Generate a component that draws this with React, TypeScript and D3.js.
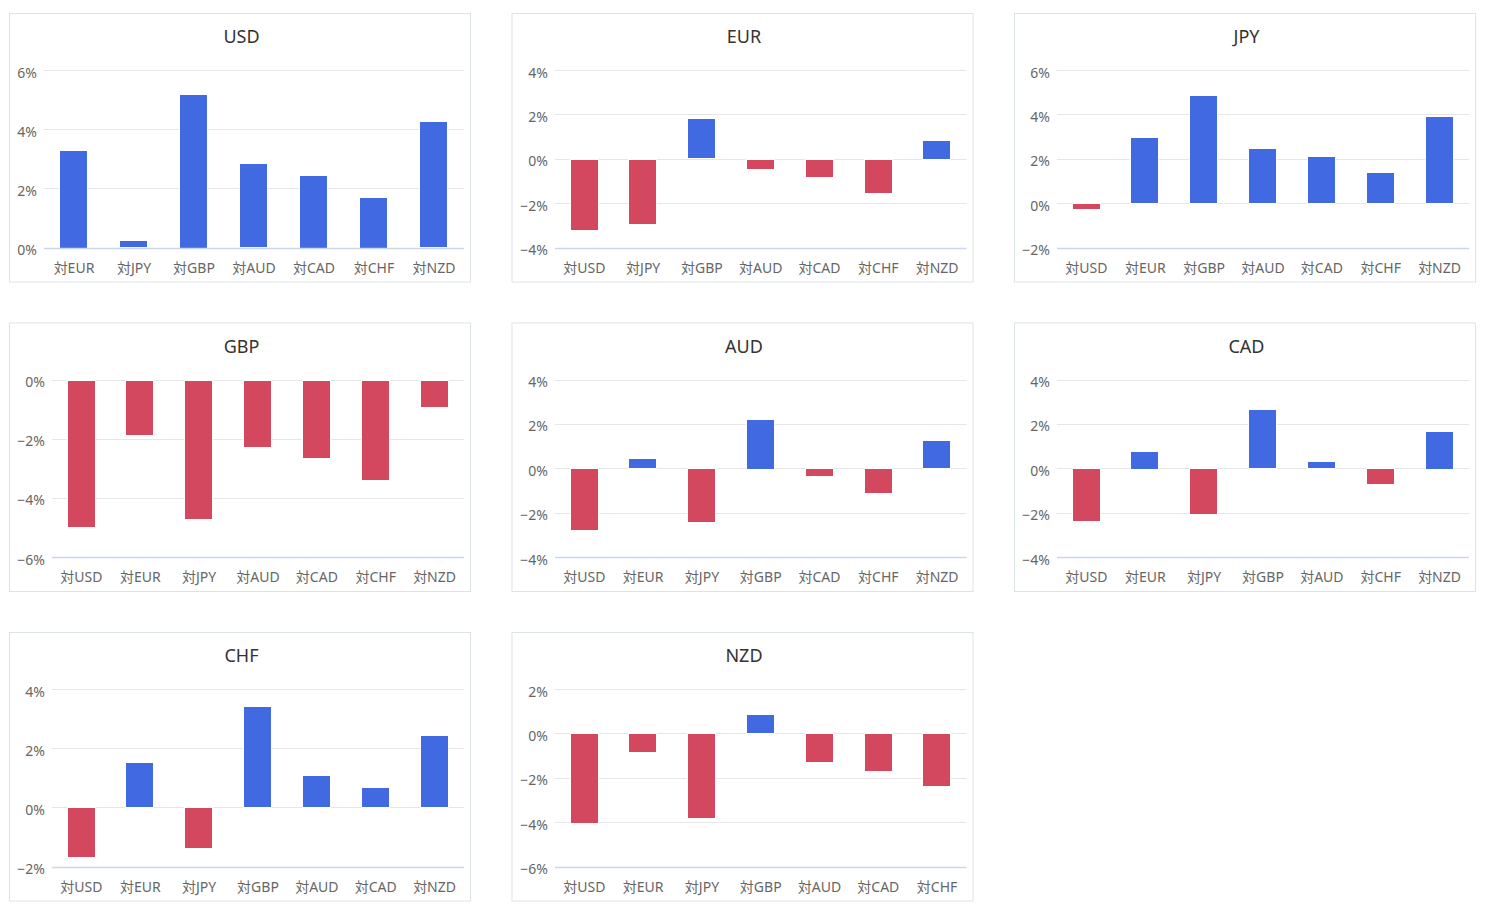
import React from "react";
import * as d3 from "d3";

const baseCurrencies = ["USD", "EUR", "JPY", "GBP", "AUD", "CAD", "CHF", "NZD"];
const allCodes = ["USD", "EUR", "JPY", "GBP", "AUD", "CAD", "CHF", "NZD"];

const usdValues = [3.31, 0.24, 5.2, 2.85, 2.46, 1.72, 4.26];
const eurValues = [-3.21, -2.91, 1.82, -0.45, -0.81, -1.52, 0.86];
const jpyValues = [-0.28, 2.97, 4.88, 2.48, 2.12, 1.39, 3.92];
const gbpValues = [-4.97, -1.86, -4.7, -2.27, -2.62, -3.39, -0.91];
const audValues = [-2.81, 0.44, -2.45, 2.24, -0.35, -1.13, 1.28];
const cadValues = [-2.39, 0.8, -2.09, 2.67, 0.32, -0.71, 1.7];
const chfValues = [-1.7, 1.53, -1.39, 3.42, 1.09, 0.69, 2.44];
const nzdValues = [-4.05, -0.87, -3.83, 0.86, -1.31, -1.71, -2.37];

const yMins = [0, -4, -2, -6, -4, -4, -2, -6];
const yMaxs = [6, 4, 6, 0, 4, 4, 4, 2];
const tickStep = 2;

const seriesValues = [usdValues, eurValues, jpyValues, gbpValues, audValues, cadValues, chfValues, nzdValues];

const W = 1486;
const H = 918;
const FONT = '"Noto Sans", "Noto Sans CJK JP", sans-serif';
const BLUE = "#4169e1";
const RED = "#d4485f";

let measureCtx: CanvasRenderingContext2D | null = null;
function textWidth(t: string, size: number) {
  if (!measureCtx) {
    const c = document.createElement("canvas");
    measureCtx = c.getContext("2d");
  }
  if (!measureCtx) return t.length * size * 0.6;
  measureCtx.font = `${size}px ${FONT}`;
  return measureCtx.measureText(t).width;
}

const fmt = (v: number) => (v < 0 ? "\u2212" + Math.abs(v) : String(v)) + "%";

function Panel({ idx }: { idx: number }) {
  const col = idx % 3;
  const row = Math.floor(idx / 3);
  const px = 9.5 + col * 502.5;
  const py = 13.5 + row * 309.5;
  const pw = 461;
  const ph = 268.5;
  const base = baseCurrencies[idx];
  const cats = allCodes.filter((c) => c !== base).map((c) => "対" + c);
  const vals = seriesValues[idx];
  const ticks = d3.range(yMins[idx], yMaxs[idx] + 0.001, tickStep);
  const labelW = d3.max(ticks, (t) => textWidth(fmt(t), 14)) || 0;
  const left = Math.round(px + 8 + labelW + 7);
  const right = px + pw - 6.5;
  const top = py + 56.5;
  const bottom = py + ph - 34.5;
  const x = d3.scaleBand<number>().domain(d3.range(cats.length)).range([left, right]).padding(0);
  const y = d3.scaleLinear().domain([yMins[idx], yMaxs[idx]]).range([bottom, top]);
  const bw = x.bandwidth() * 0.47;
  return (
    <g>
      <rect x={px} y={py} width={pw} height={ph} fill="#fff" stroke="#dde4e4" strokeWidth={1} />
      <text x={px + pw / 2 + 1.5} y={py + 29.5} textAnchor="middle" fontSize={18} fill="#333" fontFamily={FONT}>
        {base}
      </text>
      {ticks.map((t) => (
        <g key={t}>
          {t !== yMins[idx] && (
            <line x1={left} x2={right} y1={Math.round(y(t)) + 0.5} y2={Math.round(y(t)) + 0.5} stroke="#e6e6e6" strokeWidth={1} />
          )}
          <text x={left - 7} y={y(t) + 7.5} textAnchor="end" fontSize={14} fill="#666" fontFamily={FONT}>
            {fmt(t)}
          </text>
        </g>
      ))}
      {vals.map((v, i) => {
        const cx = (x(i) as number) + x.bandwidth() / 2;
        const y0 = y(0);
        const y1 = y(v);
        return (
          <rect
            key={i}
            x={Math.round(cx - bw / 2) - 0.5}
            y={Math.round(Math.min(y0, y1)) + 0.5}
            width={Math.round(bw)}
            height={Math.max(1, Math.round(Math.abs(y1 - y0)))}
            fill={v >= 0 ? BLUE : RED}
            stroke="#fff"
            strokeWidth={1}
          />
        );
      })}
      <line x1={left} x2={right} y1={Math.round(bottom) + 0.5} y2={Math.round(bottom) + 0.5} stroke="#ccd6eb" strokeWidth={1.5} />
      {cats.map((c, i) => (
        <text
          key={c}
          x={(x(i) as number) + x.bandwidth() / 2}
          y={bottom + 25}
          textAnchor="middle"
          fontSize={14}
          fill="#666"
          fontFamily={FONT}
        >
          {c}
        </text>
      ))}
    </g>
  );
}

export default function App() {
  return (
    <svg width={W} height={H} style={{ position: "absolute", left: 0, top: 0, display: "block", background: "#fff" }}>
      {baseCurrencies.map((b, i) => (
        <Panel key={b} idx={i} />
      ))}
    </svg>
  );
}
